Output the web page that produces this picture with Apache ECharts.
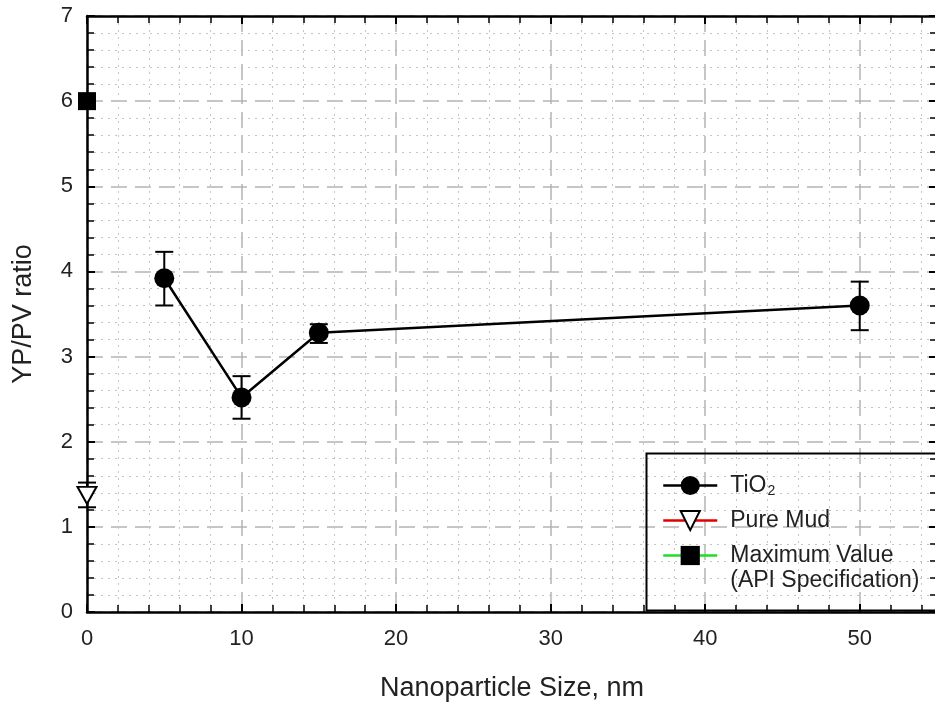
<!DOCTYPE html>
<html>
<head>
<meta charset="utf-8">
<script src="https://cdn.jsdelivr.net/npm/echarts@6/dist/echarts.min.js"></script>
<style>html,body{margin:0;padding:0;background:#fff}#c{width:935px;height:707px}</style>
</head>
<body>
<div id="c"></div>
<script>
// ---- data ----
const tioX = [5, 10, 15, 50];
const tioY = [3.92, 2.52, 3.28, 3.60];
const tioLow = [3.60, 2.27, 3.16, 3.31];
const tioHigh = [4.23, 2.77, 3.38, 3.88];
const mudX = [0];
const mudY = [1.37];
const mudLow = [1.23];
const mudHigh = [1.52];
const maxX = [0];
const maxY = [6];
const seriesNames = ['TiO2', 'Pure Mud', 'Maximum Value (API Specification)'];

const chart = echarts.init(document.getElementById('c'), null, {renderer: 'canvas'});
const FONT = '"Liberation Sans", Arial, sans-serif';

function pairs(xs, ys) { return xs.map((x, i) => [x, ys[i]]); }
function errs(xs, lo, hi) { return xs.map((x, i) => [x, lo[i], hi[i]]); }

function errRender(params, api) {
  const x = api.value(0);
  const lo = api.coord([x, api.value(1)]);
  const hi = api.coord([x, api.value(2)]);
  const w = 9;
  const st = {stroke: '#000', lineWidth: 2};
  return {
    type: 'group',
    children: [
      {type: 'line', shape: {x1: lo[0], y1: lo[1], x2: hi[0], y2: hi[1]}, style: st},
      {type: 'line', shape: {x1: lo[0] - w, y1: lo[1], x2: lo[0] + w, y2: lo[1]}, style: st},
      {type: 'line', shape: {x1: hi[0] - w, y1: hi[1], x2: hi[0] + w, y2: hi[1]}, style: st}
    ]
  };
}

const majorSplit = {show: true, lineStyle: {color: '#b4b4b4', width: 1.5, type: [16, 8]}};
const minorSplit = {show: true, lineStyle: {color: '#c4c4c4', width: 1, type: [2, 5]}};

const option = {
  backgroundColor: '#fff',
  animation: false,
  grid: {left: 87, width: 850, top: 16, height: 596, containLabel: false, outerBoundsMode: 'none'},
  xAxis: [{
    type: 'value', min: 0, max: 55, interval: 10,
    axisLine: {show: true, onZero: false, lineStyle: {color: '#000', width: 2.5}},
    axisTick: {show: true, inside: true, length: 8, lineStyle: {color: '#000', width: 2}},
    minorTick: {show: true, splitNumber: 5, length: 7, lineStyle: {color: '#000', width: 1.5}},
    axisLabel: {fontFamily: FONT, fontSize: 22, color: '#222', margin: 16,
      formatter: v => (v % 10 === 0 ? String(v) : '')},
    splitLine: majorSplit,
    minorSplitLine: minorSplit,
    name: 'Nanoparticle Size, nm', nameLocation: 'middle', nameGap: 63,
    nameTextStyle: {fontFamily: FONT, fontSize: 27, color: '#222'}
  }, {
    type: 'value', min: 0, max: 55, interval: 10, position: 'top',
    axisLine: {show: true, onZero: false, lineStyle: {color: '#000', width: 2.5}},
    axisTick: {show: true, inside: true, length: 8, lineStyle: {color: '#000', width: 2}},
    minorTick: {show: true, splitNumber: 5, length: 7, lineStyle: {color: '#000', width: 1.5}},
    axisLabel: {show: false}, splitLine: {show: false}
  }],
  yAxis: [{
    type: 'value', min: 0, max: 7, interval: 1,
    axisLine: {show: true, onZero: false, lineStyle: {color: '#000', width: 2.5}},
    axisTick: {show: true, inside: true, length: 8, lineStyle: {color: '#000', width: 2}},
    minorTick: {show: true, splitNumber: 5, length: 7, lineStyle: {color: '#000', width: 1.5}},
    axisLabel: {fontFamily: FONT, fontSize: 22, color: '#222', margin: 14},
    splitLine: majorSplit,
    minorSplitLine: minorSplit,
    name: 'YP/PV ratio', nameLocation: 'middle', nameGap: 50,
    nameTextStyle: {fontFamily: FONT, fontSize: 27, color: '#222'}
  }, {
    type: 'value', min: 0, max: 7, interval: 1, position: 'right',
    axisLine: {show: true, onZero: false, lineStyle: {color: '#000', width: 2.5}},
    axisTick: {show: true, inside: true, length: 8, lineStyle: {color: '#000', width: 2}},
    minorTick: {show: true, splitNumber: 5, length: 7, lineStyle: {color: '#000', width: 1.5}},
    axisLabel: {show: false}, splitLine: {show: false}
  }],
  legend: {
    orient: 'vertical', left: 662, top: 473, padding: 0,
    itemWidth: 54, itemHeight: 24, itemGap: 10,
    selectedMode: false,
    textStyle: {fontFamily: FONT, fontSize: 23, color: '#222', lineHeight: 25, padding: [0, 0, 0, 8],
      rich: {b: {fontFamily: FONT, fontSize: 23, color: '#222', lineHeight: 24}, s: {fontFamily: FONT, fontSize: 14, color: '#222', lineHeight: 14, padding: [11, 0, 0, 1]}}},
    formatter: function (name) {
      if (name === seriesNames[0]) return '{b|TiO}{s|2}';
      if (name === seriesNames[2]) return 'Maximum Value\n(API Specification)';
      return name;
    },
    data: [
      {name: seriesNames[0], lineStyle: {color: '#000', width: 2.5}, itemStyle: {color: '#000'}},
      {name: seriesNames[1], lineStyle: {color: '#e00000', width: 2.5}, itemStyle: {color: '#fff', borderColor: '#000', borderWidth: 2}},
      {name: seriesNames[2], lineStyle: {color: '#22dd22', width: 2.5}, itemStyle: {color: '#000'},
        textStyle: {padding: [0, 0, -25, 8]}}
    ]
  },
  graphic: [{
    type: 'rect', left: 644, top: 451, z: 100,
    shape: {width: 320, height: 157},
    style: {fill: 'none', stroke: '#000', lineWidth: 2}
  }],
  series: [
    {
      type: 'custom', name: 'tioErr', renderItem: errRender, clip: false, z: 3,
      encode: {x: 0, y: [1, 2]}, data: errs(tioX, tioLow, tioHigh), silent: true
    },
    {
      type: 'custom', name: 'mudErr', renderItem: errRender, clip: false, z: 3,
      encode: {x: 0, y: [1, 2]}, data: errs(mudX, mudLow, mudHigh), silent: true
    },
    {
      type: 'line', name: seriesNames[0], data: pairs(tioX, tioY), z: 5,
      symbol: 'circle', symbolSize: 20, clip: false,
      lineStyle: {color: '#000', width: 2.5}, itemStyle: {color: '#000'}
    },
    {
      type: 'line', name: seriesNames[1], data: pairs(mudX, mudY), z: 6,
      symbol: 'triangle', symbolRotate: 180, symbolSize: [19, 17], clip: false,
      lineStyle: {color: '#e00000', width: 2.5}, itemStyle: {color: '#fff', borderColor: '#000', borderWidth: 2}
    },
    {
      type: 'line', name: seriesNames[2], data: pairs(maxX, maxY), z: 6,
      symbol: 'rect', symbolSize: 18, clip: false,
      lineStyle: {color: '#22dd22', width: 2.5}, itemStyle: {color: '#000'}
    }
  ]
};
chart.setOption(option);
</script>
</body>
</html>
